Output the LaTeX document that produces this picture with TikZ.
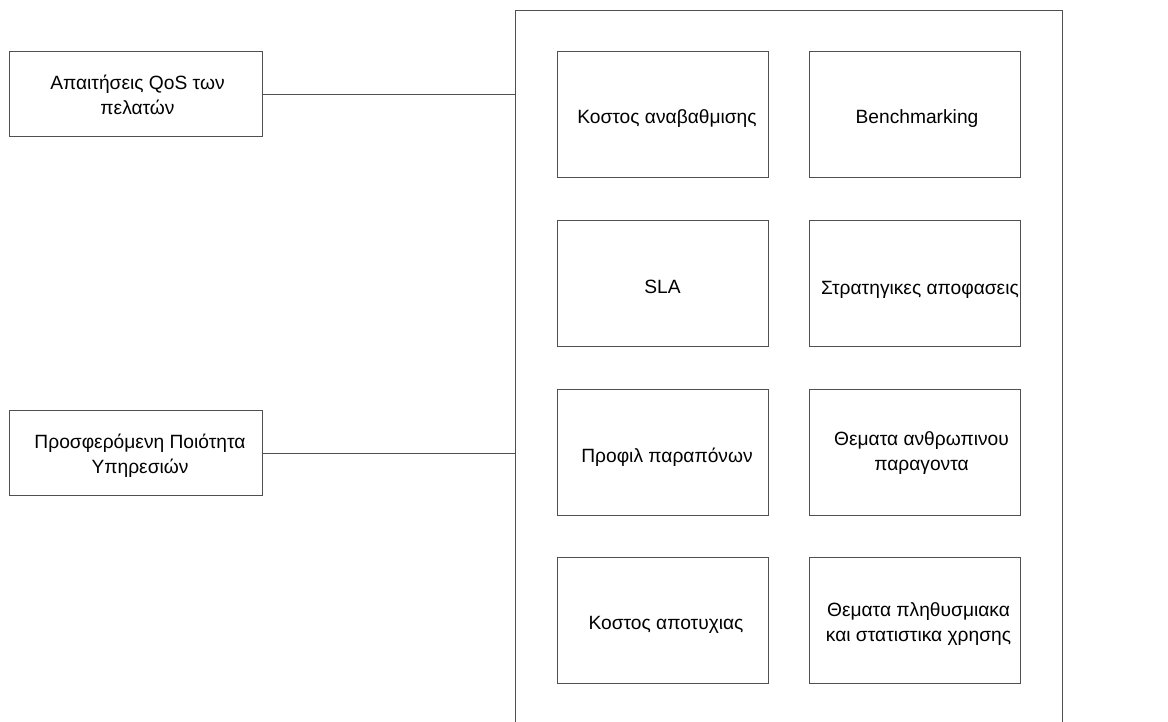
\documentclass[tikz,border=0pt]{standalone}
\usepackage{fontspec}
\setmainfont{Liberation Sans}
\definecolor{edge}{HTML}{505050}
\begin{document}
\begin{tikzpicture}[x=1pt,y=-1pt,
  txt/.style={font=\fontsize{19.2}{25}\selectfont, text=black, inner sep=0pt, align=center},
  box/.style={draw=edge, line width=1pt, rectangle, inner sep=0pt,
    minimum width=211pt, minimum height=126pt},
  sidebox/.style={draw=edge, line width=1pt, rectangle, inner sep=0pt,
    minimum width=253pt, minimum height=85pt},
  link/.style={draw=edge, line width=1pt}]
\useasboundingbox (0,0) rectangle (1168,722);
\clip (0,0) rectangle (1168,722);

% outer frame (runs past the lower edge)
\node[draw=edge, line width=1pt, rectangle, inner sep=0pt, anchor=north west,
  minimum width=547pt, minimum height=740pt] (frame) at (515,10) {};

% inputs on the left
\node[sidebox] (req) at (135.5,94.5) {};
\node[sidebox] (qos) at (135.5,453) {};
\node[txt] (req-t) at ([shift={(2,0)}]req.center) {Απαιτήσεις QoS των\\πελατών};
\node[txt] (qos-t) at ([shift={(4.5,3)}]qos.center) {Προσφερόμενη Ποιότητα\\Υπηρεσιών};

% grid of factors
\node[box] (upg)   at (662.5,115) {};
\node[box] (bench) at (914.5,115) {};
\node[box] (sla)   at (662.5,283.5) {};
\node[box] (strat) at (914.5,283.5) {};
\node[box] (compl) at (662.5,452) {};
\node[box] (human) at (914.5,452) {};
\node[box] (fail)  at (662.5,620) {};
\node[box] (usage) at (914.5,620) {};

\node[txt] (upg-t)   at ([shift={(4.5,4)}]upg.center)   {Κοστος αναβαθμισης};
\node[txt] (bench-t) at ([shift={(2.5,4)}]bench.center) {Benchmarking};
\node[txt] (sla-t)   at ([shift={(0,3)}]sla.center)     {SLA};
\node[txt] (strat-t) at ([shift={(5.5,6)}]strat.center) {Στρατηγικες αποφασεις};
\node[txt] (compl-t) at ([shift={(4.5,5)}]compl.center) {Προφιλ παραπόνων};
\node[txt] (human-t) at ([shift={(7,1)}]human.center)   {Θεματα ανθρωπινου\\παραγοντα};
\node[txt] (fail-t)  at ([shift={(3.5,5)}]fail.center)  {Κοστος αποτυχιας};
\node[txt] (usage-t) at ([shift={(4,4)}]usage.center)   {Θεματα πληθυσμιακα\\και στατιστικα χρησης};

% connectors into the frame
\draw[link] (req.east) -- (req.east -| frame.west);
\draw[link] (qos.east) -- (qos.east -| frame.west);
\end{tikzpicture}
\end{document}
